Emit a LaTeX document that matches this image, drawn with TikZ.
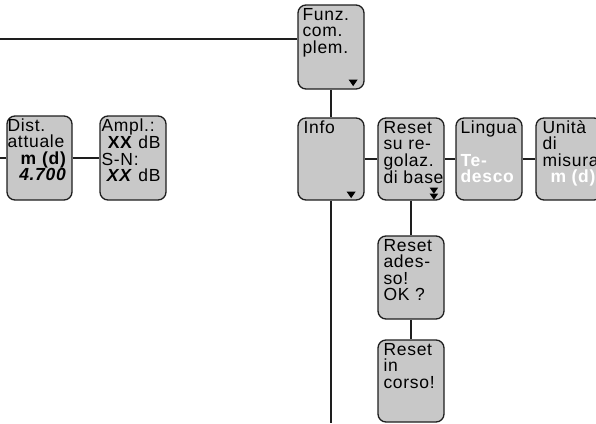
\documentclass[tikz,border=0pt]{standalone}
\usepackage{fontspec}
\setmainfont{Liberation Sans}[LetterSpace=4]
\usetikzlibrary{calc}
\definecolor{boxfill}{RGB}{200,200,200}
\definecolor{edge}{RGB}{30,30,30}
\begin{document}
\begin{tikzpicture}[x=1pt,y=-1pt,
  box/.style={draw=edge, line width=1.3pt, fill=boxfill, rounded corners=8pt, inner sep=0pt, minimum width=66pt, minimum height=82pt},
  txt/.style={anchor=north west, inner sep=0pt, align=left, font=\fontsize{17.5}{16.3}\selectfont},
  conn/.style={draw=edge, line width=1.2pt},
  tri/.style={fill=black}]
\useasboundingbox (0,0) rectangle (596,423);
% boxes
\node[box, minimum height=84pt] (funz) at (331,47) {};
\node[box] (info) at (331,159) {};
\node[box] (resetsu) at (411,159) {};
\node[box] (lingua) at (489,159) {};
\node[box] (unita) at (569,159) {};
\node[box, minimum height=83pt] (resetad) at (411,277.5) {};
\node[box] (resetin) at (411,381) {};
\node[box, minimum width=65pt, minimum height=84pt] (dist) at (39.5,158) {};
\node[box, minimum height=84pt] (ampl) at (133,158) {};
% connectors
\coordinate (lefttop) at (0,39);
\coordinate (leftmid) at (0,158);
\coordinate (bottom) at (331,423);
\draw[conn] (lefttop) -- (lefttop -| funz.west);
\draw[conn] (funz.south) -- (info.north);
\draw[conn] (info.south) -- (bottom);
\draw[conn] (info.east) -- (resetsu.west);
\draw[conn] (resetsu.east) -- (lingua.west);
\draw[conn] (lingua.east) -- (unita.west);
\draw[conn] (resetsu.south) -- (resetad.north);
\draw[conn] (resetad.south) -- (resetin.north);
\draw[conn] (leftmid) -- (dist.west);
\draw[conn] (dist.east) -- (ampl.west);
% texts
\node[txt] (funzT) at ([xshift=5pt,yshift=-3pt]funz.north west) {\rule{0pt}{13pt}Funz.\\com.\\plem.};
\node[txt] (infoT) at ([xshift=6pt,yshift=-3pt]info.north west) {\rule{0pt}{13pt}Info};
\node[txt] (resetsuT) at ([xshift=6pt,yshift=-3pt]resetsu.north west) {\rule{0pt}{13pt}Reset\\su re-\\golaz.\\di base};
\node[txt] (linguaT) at ([xshift=5pt,yshift=-3pt]lingua.north west) {\rule{0pt}{13pt}Lingua\\[16.3pt]\textcolor{white}{\textbf{Te-}}\\\textcolor{white}{\textbf{desco}}};
\node[txt] (unitaT) at ([xshift=7pt,yshift=-3pt]unita.north west) {\rule{0pt}{13pt}Unità\\di\\misura\\\hspace*{8pt}\textcolor{white}{\textbf{m (d)}}};
\node[txt] (resetadT) at ([xshift=6pt,yshift=-3pt]resetad.north west) {\rule{0pt}{13pt}Reset\\ades-\\so!\\OK ?};
\node[txt] (resetinT) at ([xshift=6pt,yshift=-3pt]resetin.north west) {\rule{0pt}{13pt}Reset\\in\\corso!};
\node[txt, text width=59pt] (distT) at ([xshift=1pt,yshift=-3pt]dist.north west) {\rule{0pt}{13pt}Dist.\\attuale\\\hspace*{\fill}\textbf{m (d)}\\\hspace*{\fill}\textbf{\textit{4.700}}};
\node[txt, text width=59pt] (amplT) at ([xshift=2pt,yshift=-3pt]ampl.north west) {\rule{0pt}{13pt}Ampl.:\\\hspace*{\fill}\textbf{XX} dB\\S-N:\\\hspace*{\fill}\textbf{\textit{XX}} dB};
% small triangles
\fill[tri] ($(funz.south east)+(-16,-10)$) -- ++(9,0) -- ++(-4.5,6.5) -- cycle;
\fill[tri] ($(info.south east)+(-18,-9)$) -- ++(9,0) -- ++(-4.5,6.5) -- cycle;
\fill[tri] ($(resetsu.south east)+(-15,-13)$) -- ++(8.5,0) -- ++(-4.25,6) -- cycle;
\fill[tri] ($(resetsu.south east)+(-15,-7)$) -- ++(8.5,0) -- ++(-4.25,6) -- cycle;
\end{tikzpicture}
\end{document}
